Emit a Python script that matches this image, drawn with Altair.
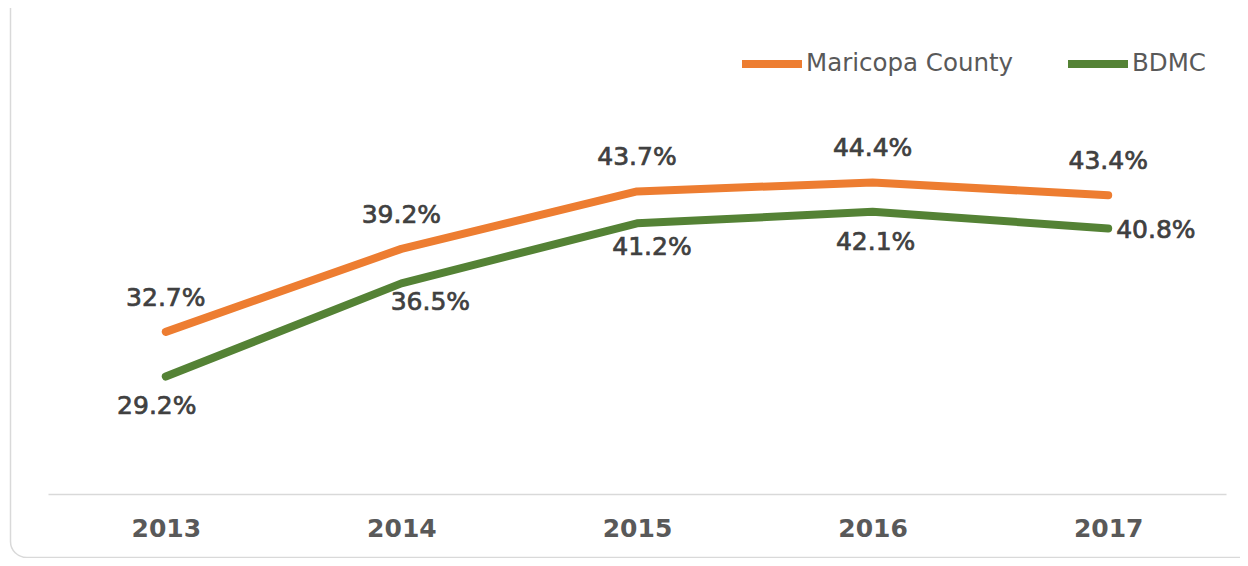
import altair as alt
import pandas as pd

years = ["2013", "2014", "2015", "2016", "2017"]
maricopa = [32.7, 39.2, 43.7, 44.4, 43.4]
bdmc = [29.2, 36.5, 41.2, 42.1, 40.8]
series_names = ["Maricopa County", "BDMC"]
colors = ["#ED7D31", "#548235"]

rows = []
for name, vals in zip(series_names, [maricopa, bdmc]):
    for y, v in zip(years, vals):
        rows.append({"year": y, "series": name, "value": v, "label": f"{v:.1f}%"})
df = pd.DataFrame(rows)

FONT = "DejaVu Sans"
W, H = 1178, 383

x = alt.X("year:N", sort=years,
          scale=alt.Scale(paddingInner=0, paddingOuter=0.5),
          axis=alt.Axis(title=None, labelAngle=0, ticks=False, domain=True,
                        domainColor="#d9d9d9", domainWidth=1.5,
                        labelFont=FONT, labelFontSize=25, labelColor="#595959",
                        labelFontWeight="bold", labelPadding=22, grid=False))
y = alt.Y("value:Q", scale=alt.Scale(domain=[20, 50], nice=False, zero=False),
          axis=None)
color = alt.Color("series:N", sort=series_names,
                  scale=alt.Scale(domain=series_names, range=colors),
                  legend=alt.Legend(title=None, orient="none", direction="horizontal",
                                    legendX=690, legendY=-81,
                                    symbolType="stroke", symbolSize=3600,
                                    symbolStrokeWidth=8,
                                    labelFont=FONT, labelFontSize=24.5,
                                    labelColor="#595959", labelOffset=0,
                                    columnPadding=38, labelLimit=400))

base = alt.Chart(df)

border = alt.Chart(pd.DataFrame({"a": [0]})).mark_rect(
    fill=None, stroke="#d9d9d9", strokeWidth=1.5, cornerRadius=16
).encode(x=alt.value(-37.5), x2=alt.value(1400), y=alt.value(-300), y2=alt.value(446.5))

lines = base.mark_line(strokeWidth=8, strokeCap="round", strokeJoin="round").encode(
    x=x, y=y, color=color)

def labels(series, yrs, dx, dy, align="center"):
    cond = " || ".join(f"datum.year == '{v}'" for v in yrs)
    return base.transform_filter(
        f"datum.series == '{series}' && ({cond})"
    ).mark_text(font=FONT, fontSize=25, color="#404040", dx=dx, dy=dy, align=align,
                baseline="alphabetic", stroke="#404040", strokeWidth=0.7).encode(
        x=alt.X("year:N", sort=years), y="value:Q", text="label:N")

layers = [
    border, lines,
    labels("Maricopa County", years, 0, -26),
    labels("BDMC", ["2013"], -9, 37),
    labels("BDMC", ["2014"], 29, 27),
    labels("BDMC", ["2015"], 15, 32),
    labels("BDMC", ["2016"], 3, 38),
    labels("BDMC", ["2017"], 8, 10, "left"),
]

chart = alt.layer(*layers).properties(
    width=W, height=H,
    background="white",
    autosize=alt.AutoSizeParams(type="none"),
    padding={"left": 40, "top": 103, "right": 14, "bottom": 64},
).configure_view(strokeWidth=0, stroke="transparent")

chart.save("out.html", embed_options={"renderer": "svg", "actions": False})
